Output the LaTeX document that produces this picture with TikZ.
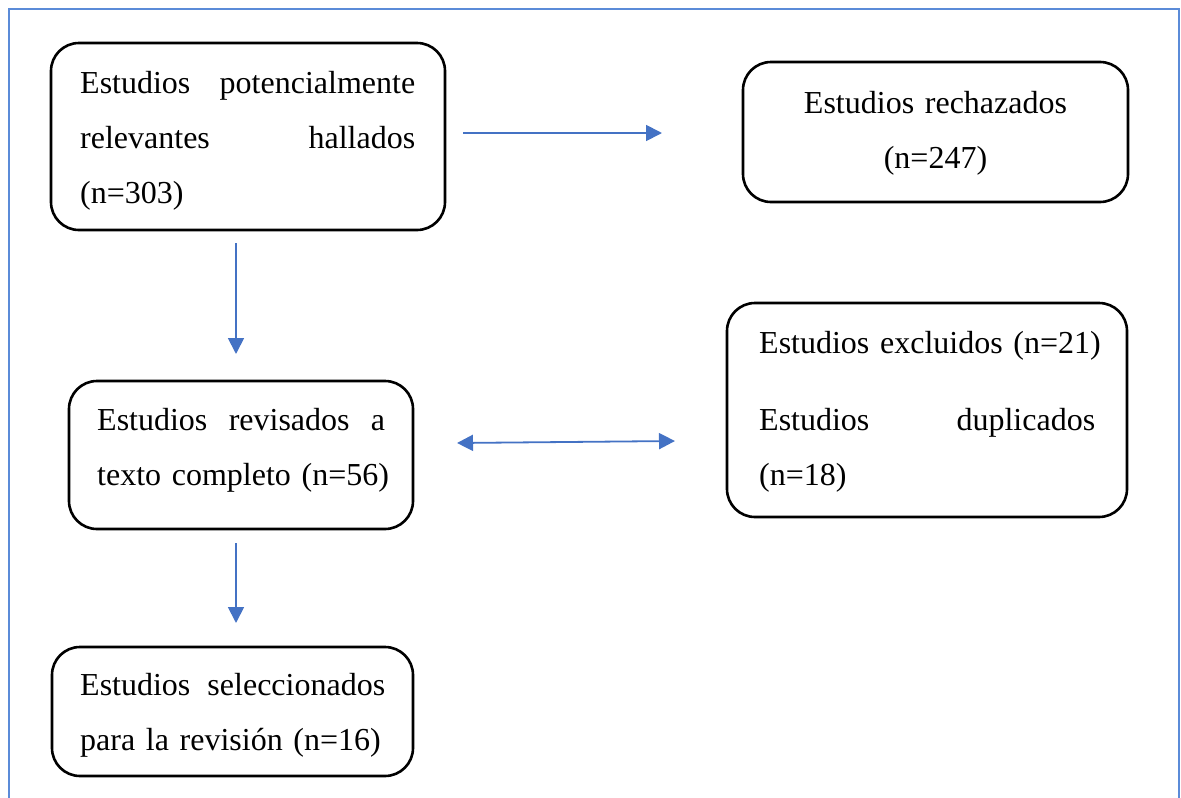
\documentclass[tikz,border=0pt]{standalone}
\usepackage{fontspec}
\setmainfont{Liberation Serif}
\usetikzlibrary{arrows.meta}
\definecolor{arrowblue}{HTML}{4472C4}
\definecolor{frameblue}{HTML}{5B8BD8}
\newcommand{\jl}[2]{\leavevmode\hbox to #1{#2}}
\newcommand{\fst}{\rule{0pt}{30pt}}
\begin{document}
\begin{tikzpicture}[x=1pt,y=-1pt,
  box/.style={draw=black,line width=2.6pt,rounded corners=28pt,inner sep=0pt},
  txt/.style={font=\fontsize{32}{55}\selectfont,inner sep=0pt,anchor=north west,align=left},
  conn/.style={draw=arrowblue,line width=1.8pt,-{Triangle[length=16pt,width=16pt]}},
  dconn/.style={draw=arrowblue,line width=1.8pt,{Triangle[length=16pt,width=16pt]}-{Triangle[length=16pt,width=16pt]}}]
\useasboundingbox (0,0) rectangle (1181,798);
\draw[frameblue,line width=2.5pt] (9,800) -- (9,9) -- (1179,9) -- (1179,800);

% boxes
\node[box,minimum width=394pt,minimum height=187pt] (b1) at (248,136.5) {};
\node[box,minimum width=385pt,minimum height=140pt] (b2) at (935.5,132) {};
\node[box,minimum width=344pt,minimum height=148pt] (b3) at (241,455) {};
\node[box,minimum width=400pt,minimum height=214pt] (b4) at (927,410) {};
\node[box,minimum width=361pt,minimum height=129pt] (b5) at (232.5,711.5) {};

% texts (top = first baseline - 30)
\node[txt,text width=345pt] (t1) at (80,63)
  {\fst\jl{335pt}{Estudios\hfill potencialmente}\\\jl{335pt}{relevantes\hfill hallados}\\(n=303)};
\node[txt,anchor=north,align=center,text width=340pt] (t2) at (935.5,83)
  {\fst Estudios rechazados\\(n=247)};
\node[txt,text width=300pt] (t3) at (97,400)
  {\fst\jl{288pt}{Estudios\hfill revisados\hfill a}\\texto completo (n=56)};
\node[txt,text width=345pt] (t4) at (759,323)
  {\fst Estudios excluidos (n=21)\\[22pt]\jl{336pt}{Estudios\hfill duplicados}\\(n=18)};
\node[txt,text width=310pt] (t5) at (80,665)
  {\fst\jl{305pt}{Estudios\hfill seleccionados}\\para la revisión (n=16)};

% connectors
\coordinate (a1s) at (463,133);
\coordinate (a1e) at (662,133);
\coordinate (a2s) at (236,243);
\coordinate (a2e) at (236,354);
\coordinate (a3s) at (457,443);
\coordinate (a3e) at (675,441);
\coordinate (a4s) at (236,543);
\coordinate (a4e) at (236,623);
\draw[conn] (a1s) -- (a1e);
\draw[conn] (a2s) -- (a2e);
\draw[dconn] (a3s) -- (a3e);
\draw[conn] (a4s) -- (a4e);
\end{tikzpicture}
\end{document}
